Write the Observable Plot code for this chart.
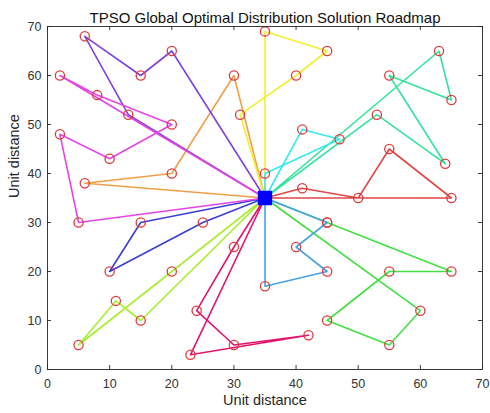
<!DOCTYPE html>
<html>
<head>
<meta charset="utf-8">
<script src="https://cdn.jsdelivr.net/npm/d3@7"></script>
<script src="https://cdn.jsdelivr.net/npm/@observablehq/plot@0.6"></script>
<style>
  html, body { margin: 0; padding: 0; background: #fff; }
  #chart svg { display: block; }
</style>
</head>
<body>
<div id="chart"></div>
<script>
// ---- data ----
const titleText = "TPSO Global Optimal Distribution Solution Roadmap";
const xLabel = "Unit distance";
const yLabel = "Unit distance";
const xTicks = [0, 10, 20, 30, 40, 50, 60, 70];
const yTicks = [0, 10, 20, 30, 40, 50, 60, 70];
const depot = [35, 35];

const routeGreen   = [[60, 12], [55, 5], [45, 10], [55, 20], [65, 20], [45, 30]];
const routeRed     = [[41, 37], [50, 35], [55, 45], [65, 35]];
const routeOrange  = [[6, 38], [20, 40], [30, 60]];
const routeYellow  = [[35, 69], [45, 65], [40, 60], [31, 52]];
const routeLime    = [[20, 20], [5, 5], [11, 14], [15, 10]];
const routeTeal    = [[63, 65], [65, 55], [55, 60], [64, 42], [53, 52]];
const routeCyan    = [[35, 40], [47, 47], [41, 49]];
const routeSky     = [[45, 30], [40, 25], [45, 20], [35, 17]];
const routeBlue    = [[25, 30], [10, 20], [15, 30]];
const routePurple  = [[20, 65], [15, 60], [6, 68], [13, 52]];
const routeMagenta = [[2, 60], [8, 56], [20, 50], [10, 43], [2, 48], [5, 30]];
const routeCrimson = [[30, 25], [24, 12], [30, 5], [42, 7], [23, 3]];

const routes = [routeGreen, routeRed, routeOrange, routeYellow, routeLime, routeTeal,
                routeCyan, routeSky, routeBlue, routePurple, routeMagenta, routeCrimson];
const routeColors = ["#42e042", "#e04848", "#f0a048", "#f4ee30", "#a8ee30", "#34e49c",
                     "#34eaf0", "#4aa2e4", "#3a3ed4", "#7e42de", "#e446e4", "#e2146e"];

// ---- build tables ----
const linePts = [];
routes.forEach((r, i) => {
  const pts = [depot, ...r, depot];
  pts.forEach(([x, y]) => linePts.push({x, y, route: i}));
});
const customers = routes.flat().map(([x, y]) => ({x, y}));

const W = 490, H = 413;
const mL = 47, mR = 8, mT = 26, mB = 44;
const plotW = W - mL - mR, plotH = H - mT - mB;
const font = "'Liberation Sans', Arial, Helvetica, sans-serif";

const chart = Plot.plot({
  width: W,
  height: H,
  marginLeft: mL,
  marginRight: mR,
  marginTop: mT,
  marginBottom: mB,
  style: {fontFamily: font, background: "#fff", overflow: "visible"},
  x: {domain: [0, 70], ticks: xTicks},
  y: {domain: [0, 70], ticks: yTicks},
  marks: [
    // route lines
    ...routes.map((r, i) => Plot.line(linePts.filter(d => d.route === i), {
      x: "x", y: "y", stroke: routeColors[i], strokeWidth: 1.6
    })),
    // customer markers
    Plot.dot(customers, {x: "x", y: "y", r: 4.6, stroke: "#e03a3a", strokeWidth: 1.3, fill: "none"}),
    // depot
    Plot.dot([depot], {x: d => d[0], y: d => d[1], symbol: "square", r: 7.2, fill: "#0000ff", stroke: "#0000ff"}),
    // frame
    Plot.frame({stroke: "#262626", strokeWidth: 0.9}),
    // inward ticks
    Plot.ruleX(xTicks, {x: d => d, insetTop: plotH - 4, stroke: "#262626", strokeWidth: 0.9}),
    Plot.ruleX(xTicks, {x: d => d, insetBottom: plotH - 4, stroke: "#262626", strokeWidth: 0.9}),
    Plot.ruleY(yTicks, {y: d => d, insetRight: plotW - 4, stroke: "#262626", strokeWidth: 0.9}),
    Plot.ruleY(yTicks, {y: d => d, insetLeft: plotW - 4, stroke: "#262626", strokeWidth: 0.9}),
    // axes labels
    Plot.axisX(xTicks, {tickSize: 0, tickPadding: 10, fontSize: 12.5, fill: "#333", label: null}),
    Plot.axisY(yTicks, {tickSize: 0, tickPadding: 6, fontSize: 12.5, fill: "#333", label: null}),
    Plot.text([xLabel], {text: d => d, frameAnchor: "bottom", dy: 35, fontSize: 14.5, fill: "#262626"}),
    Plot.text([yLabel], {text: d => d, frameAnchor: "left", rotate: -90, dx: -33, fontSize: 14.5, fill: "#262626"}),
    Plot.text([titleText], {text: d => d, frameAnchor: "top", dy: -14, fontSize: 15, fill: "#111"})
  ]
});
document.getElementById("chart").appendChild(chart);
</script>
</body>
</html>
